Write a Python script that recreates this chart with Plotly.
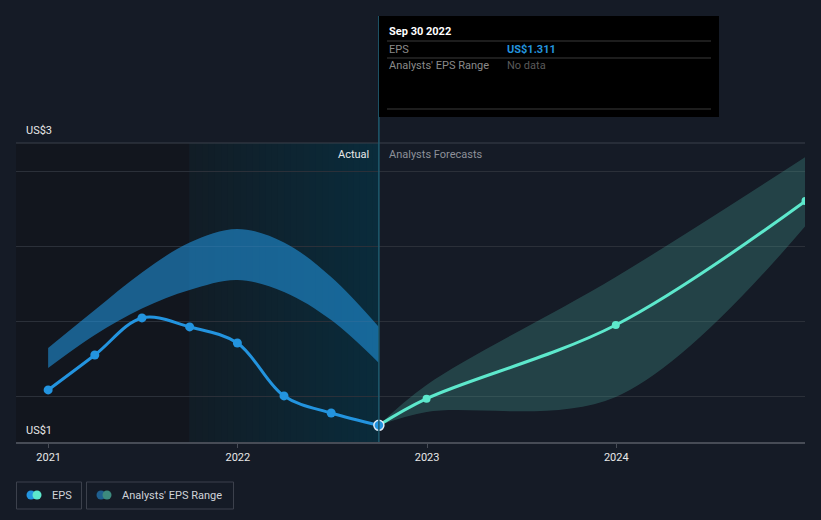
import plotly.graph_objects as go
import pandas as pd

# ---- data ----
actual_dates = ["2020-12-31", "2021-03-31", "2021-06-30", "2021-09-30",
                "2021-12-31", "2022-03-31", "2022-06-30", "2022-09-30"]
actual_eps = [1.547, 1.78, 2.027, 1.967, 1.86, 1.507, 1.393, 1.311]

past_range_low = [1.693, 1.913, 2.09, 2.213, 2.28, 2.20, 2.013, 1.727]
past_range_high = [1.827, 2.08, 2.33, 2.53, 2.62, 2.53, 2.30, 1.967]

fc_dates = ["2022-09-30", "2022-12-31", "2023-12-31", "2024-12-31"]
fc_eps = [1.311, 1.489, 1.98, 2.807]
fc_low = [1.311, 1.40, 1.50, 2.64]
fc_high = [1.311, 1.58, 2.30, 3.10]

x_ticks = ["2021-01-01", "2022-01-01", "2023-01-01", "2024-01-01"]
x_tick_labels = ["2021", "2022", "2023", "2024"]
y_grid = [1.5, 2.0, 2.5, 3.0]

BG = "#151b26"
BLUE = "#2394df"
TEAL = "#5de8cc"
FONT = "Roboto"

fig = go.Figure()

# past analyst range band
fig.add_trace(go.Scatter(x=actual_dates, y=past_range_low, mode="lines",
                         line=dict(width=0, shape="spline"), hoverinfo="skip",
                         showlegend=False))
fig.add_trace(go.Scatter(x=actual_dates, y=past_range_high, mode="lines",
                         line=dict(width=0, shape="spline"), fill="tonexty",
                         fillcolor="rgba(32,148,222,0.58)", hoverinfo="skip",
                         showlegend=False))

# forecast range band
fig.add_trace(go.Scatter(x=fc_dates, y=fc_low, mode="lines",
                         line=dict(width=0, shape="spline"), hoverinfo="skip",
                         showlegend=False))
fig.add_trace(go.Scatter(x=fc_dates, y=fc_high, mode="lines",
                         line=dict(width=0, shape="spline"), fill="tonexty",
                         fillcolor="rgba(70,160,150,0.30)", hoverinfo="skip",
                         showlegend=False))

# forecast line
fig.add_trace(go.Scatter(x=fc_dates, y=fc_eps, mode="lines+markers",
                         line=dict(color=TEAL, width=3, shape="spline"),
                         marker=dict(color=TEAL, size=8), showlegend=False))

# actual line
fig.add_trace(go.Scatter(x=actual_dates, y=actual_eps, mode="lines+markers",
                         line=dict(color=BLUE, width=3, shape="spline"),
                         marker=dict(color=BLUE, size=9), showlegend=False))
# highlighted last point
fig.add_trace(go.Scatter(x=[actual_dates[-1]], y=[actual_eps[-1]], mode="markers",
                         marker=dict(color=BLUE, size=10,
                                     line=dict(color="#dfeaf5", width=1.5)),
                         showlegend=False))

shapes = []
# darker past region
shapes.append(dict(type="rect", xref="paper", yref="paper", x0=0, x1=(189 - 16) / 789,
                   y0=0, y1=1, fillcolor="#12161e", line=dict(width=0), layer="below"))
# highlighted gradient region (last year of actuals): overlapping opaque strips
start = pd.Timestamp(actual_dates[3])
end = pd.Timestamp(actual_dates[-1])
n = 30
c0 = (17, 29, 38)
c1 = (10, 43, 59)
for i in range(n):
    t0 = start + (end - start) * i / n
    t1 = min(end, start + (end - start) * (i + 1.6) / n)
    f = i / (n - 1)
    col = tuple(round(c0[k] + (c1[k] - c0[k]) * f) for k in range(3))
    shapes.append(dict(type="rect", xref="x", yref="paper", x0=t0, x1=t1, y0=0, y1=1,
                       fillcolor="rgb(%d,%d,%d)" % col, line=dict(width=0), layer="below"))
# top border line
shapes.append(dict(type="line", xref="paper", yref="paper", x0=0, x1=1, y0=1, y1=1,
                   line=dict(color="#3a404b", width=1)))
# vertical divider line
shapes.append(dict(type="line", xref="x", yref="paper", x0=actual_dates[-1], x1=actual_dates[-1],
                   y0=0, y1=(442 - 16) / 299, line=dict(color="#1e5a6e", width=1.5)))


def px(xp):
    return (xp - 16) / 789


def py(yp):
    return (442 - yp) / 299


# tooltip box
shapes.append(dict(type="rect", xref="paper", yref="paper", x0=px(379), x1=px(719),
                   y0=py(117), y1=py(16), fillcolor="#000000", line=dict(width=0)))
for yl in (41, 58, 109):
    shapes.append(dict(type="line", xref="paper", yref="paper", x0=px(387), x1=px(711),
                       y0=py(yl), y1=py(yl), line=dict(color="#3a3a3a", width=1)))

# legend boxes
shapes.append(dict(type="rect", xref="paper", yref="paper", x0=px(16.5), x1=px(81.5),
                   y0=py(509), y1=py(482), line=dict(color="#3c414c", width=1),
                   fillcolor="rgba(0,0,0,0)"))
shapes.append(dict(type="rect", xref="paper", yref="paper", x0=px(86.5), x1=px(233.5),
                   y0=py(509), y1=py(482), line=dict(color="#3c414c", width=1),
                   fillcolor="rgba(0,0,0,0)"))
for cx, col in ((31, BLUE), (37, TEAL), (101, "#1f5f8f"), (107, "#3d8a7e")):
    shapes.append(dict(type="circle", xref="paper", yref="paper",
                       x0=px(cx - 4.5), x1=px(cx + 4.5), y0=py(499.5), y1=py(490.5),
                       fillcolor=col, line=dict(width=0)))

ann = []


def text(xp, yp, s, color, size=11, anchor="left", weight="normal"):
    ann.append(dict(xref="paper", yref="paper", x=px(xp), y=py(yp), text=s,
                    showarrow=False, xanchor=anchor, yanchor="middle",
                    font=dict(family=FONT, size=size, color=color, weight=weight)))


text(24, 130, "US$3", "#e8e8e8", 11)
text(24, 430, "US$1", "#e8e8e8", 11)
text(371, 154, "Actual", "#e8e8e8", 11, anchor="right")
text(387, 154, "Analysts Forecasts", "#8d9099", 11)
text(387, 31, "Sep 30 2022", "#ffffff", 11, weight="bold")
text(387, 49, "EPS", "#8a8a8a", 11)
text(505, 49, "US$1.311", BLUE, 11, weight="bold")
text(387, 66, "Analysts' EPS Range", "#8a8a8a", 11)
text(505, 66, "No data", "#5a5a5a", 11)
text(50, 495, "EPS", "#d0d3d9", 11)
text(120, 495, "Analysts' EPS Range", "#d0d3d9", 11)

fig.update_layout(
    width=821, height=520,
    margin=dict(l=16, r=16, t=143, b=78),
    paper_bgcolor=BG, plot_bgcolor=BG,
    shapes=shapes, annotations=ann,
    showlegend=False,
    font=dict(family=FONT, color="#e0e0e0", size=11),
    xaxis=dict(type="date", range=["2020-10-30", "2024-12-30"],
               tickvals=x_ticks, ticktext=x_tick_labels,
               showgrid=False, zeroline=False,
               showline=True, linecolor="#474c56", linewidth=1.5,
               ticks="outside", ticklen=4, tickcolor="#474c56",
               tickfont=dict(family=FONT, size=11, color="#e8e8e8")),
    yaxis=dict(range=[1.2, 3.193], tickvals=y_grid, showticklabels=False,
               showgrid=True, gridcolor="#2b3039", gridwidth=1,
               zeroline=False, showline=False, fixedrange=True),
)

fig.write_html("out.html")
